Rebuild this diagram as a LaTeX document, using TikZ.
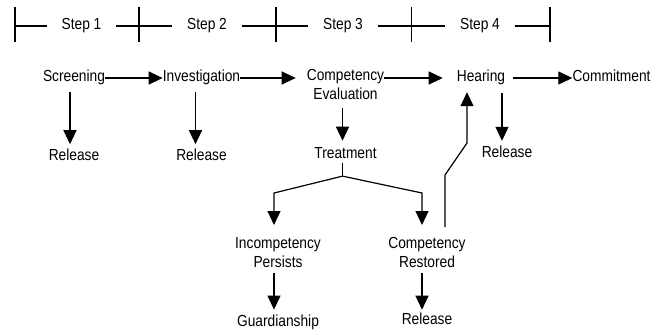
\documentclass[tikz,border=0pt]{standalone}
\usepackage{fontspec}
\setmainfont[FakeStretch=0.86]{Liberation Sans}
\usetikzlibrary{arrows.meta,positioning}

\begin{document}
\begin{tikzpicture}[
    x=1pt, y=-1pt,
    every node/.style={inner sep=0pt, font=\fontsize{16}{19.5}\selectfont},
    txt/.style={text height=11.5pt, text depth=3.5pt},
    twoline/.style={align=center, anchor=north},
    ln/.style={line width=1.2pt},
    arr/.style={ln, -{Triangle[length=14pt,width=13pt]}}
    ]
    \useasboundingbox (0,0) rectangle (663,331);

    % time line
    \foreach \n/\x in {1/81.5, 2/207, 3/343, 4/480}
        \node[txt, inner xsep=14.5pt] (s\n) at (\x,26) {Step \n};
    \foreach \x [count=\i from 0] in {15,139,276,411.5,550} {
        \coordinate (t\i) at (\x,26);
        \draw[ln] (\x,7) -- (\x,42);
    }
    \draw[ln] (t0) -- (s1.west) (s1.east) -- (s2.west) (s2.east) -- (s3.west)
        (s3.east) -- (s4.west) (s4.east) -- (t4);

    % nodes
    \node[txt] (scr) at (74,78) {Screening};
    \node[txt] (inv) at (201.5,78) {Investigation};
    \node[twoline] (comp) at (345.5,69) {Competency\\Evaluation};
    \node[txt] (hear) at (481,78) {Hearing};
    \node[txt] (commit) at (611.5,78) {Commitment};

    \node[txt, below=63pt of scr] (rel1) {Release};
    \node[txt, below=63pt of inv] (rel2) {Release};
    \node[txt, below=47pt of comp] (treat) {Treatment};
    \node[txt] (rel3) at (507,153.5) {Release};

    \node[twoline] (incomp) at (278,237) {Incompetency\\Persists};
    \node[twoline] (rest) at (427,237) {Competency\\Restored};
    \node[txt, below=47pt of incomp] (guard) {Guardianship};
    \node[txt, below=45pt of rest] (rel4) {Release};

    % arrows
    \draw[arr] (scr) -- (inv);
    \draw[arr, shorten >=11pt] (inv) -- (comp.west |- inv);
    \draw[arr, shorten >=14pt] (comp.east |- hear) -- (hear);
    \draw[arr, shorten <=8pt] (hear) -- (commit);

    \draw[arr, shorten <=6.5pt, shorten >=4.5pt] ([xshift=-4pt]scr.south) -- ([xshift=-4pt]rel1.north);
    \draw[arr, shorten <=6.5pt, shorten >=4.5pt] ([xshift=-6pt]inv.south) -- ([xshift=-6pt]rel2.north);
    \draw[arr, shorten <=7.5pt, shorten >=6.5pt] ([xshift=-3pt]comp.south) -- ([xshift=-3pt]treat.north);
    \draw[arr, shorten <=7.5pt, shorten >=5pt] ([xshift=-5pt]rel3.north |- hear.south) -- ([xshift=-5pt]rel3.north);

    \draw[ln] ([xshift=-3pt]treat.south) -- ++(0,13.5) coordinate (split);
    \draw[arr, shorten >=12pt] (split) -- ([shift={(-4pt,44pt)}]incomp.north) -- ([xshift=-4pt]incomp.north);
    \draw[arr, shorten >=12pt] (split) -- ([shift={(-5pt,44pt)}]rest.north) -- ([xshift=-5pt]rest.north);

    \draw[arr, shorten <=4.5pt, shorten >=5.5pt] ([xshift=-4pt]incomp.south) -- ([xshift=-4pt]incomp.south |- guard.north);
    \draw[arr, shorten <=4.5pt, shorten >=3.5pt] ([xshift=-5pt]rest.south) -- ([xshift=-5pt]rest.south |- rel4.north);
    \draw[arr, shorten >=6.5pt] ([shift={(18pt,10pt)}]rest.north) -- ++(0,-52) -- ++(22,-32) -- ([xshift=-14pt]hear.south);
\end{tikzpicture}
\end{document}
